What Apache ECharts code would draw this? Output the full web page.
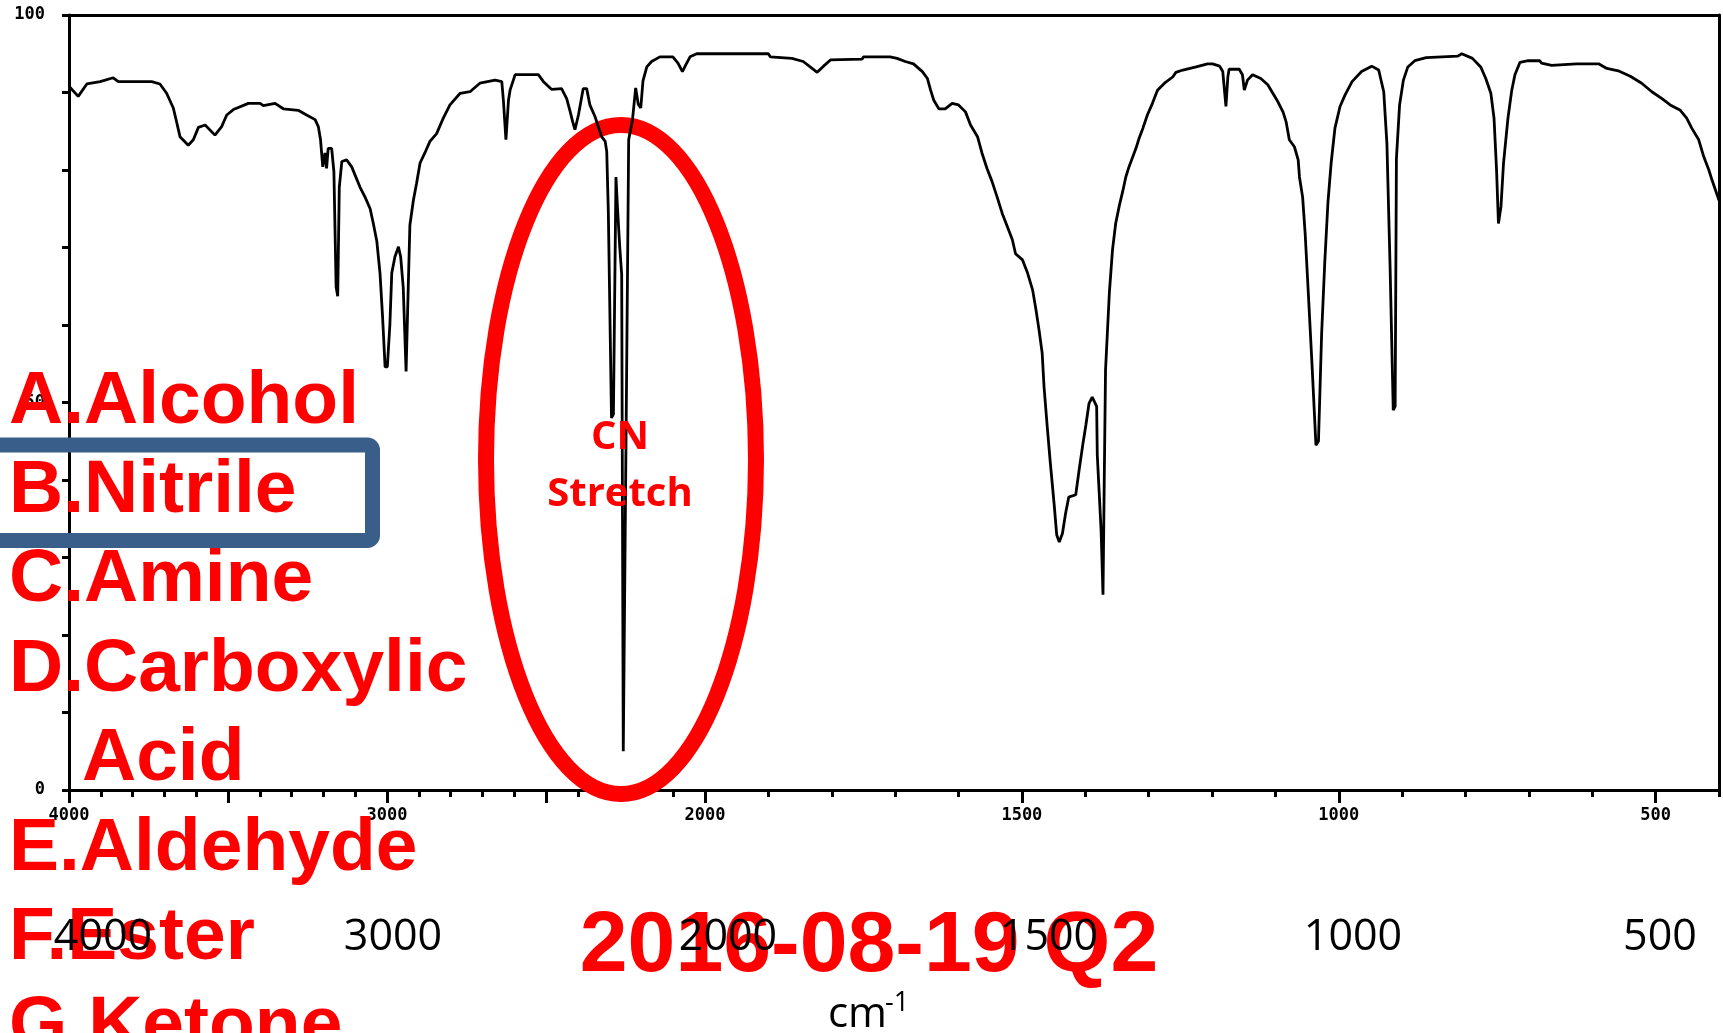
<!DOCTYPE html>
<html><head><meta charset="utf-8">
<script src="https://cdn.jsdelivr.net/npm/echarts/dist/echarts.min.js"></script>
<style>html,body{margin:0;padding:0;background:#fff;overflow:hidden}#c{width:1723px;height:1033px}</style>
</head><body><div id="c"></div>
<script>
// ---- data (wavenumber cm-1, %T) ----
const wavenumbers = [4000,3971,3944,3902,3861,3845,3740,3714,3693,3672,3661,3651,3625,3609,3593,3572,3541,3520,3504,3483,3436,3399,3389,3352,3326,3279,3253,3226,3216,3209,3202,3195,3190,3185,3174,3167,3160,3155,3150,3142,3127,3111,3101,3085,3069,3053,3043,3032,3022,3014,3006,2999,2991,2985,2975,2964,2957,2949,2940,2933,2928,2917,2907,2896,2881,2865,2844,2823,2802,2770,2739,2708,2660,2639,2634,2626,2618,2613,2597,2524,2508,2482,2451,2435,2425,2416,2409,2398,2383,2372,2362,2346,2325,2314,2309,2304,2298,2294,2288,2280,2275,2268,2262,2257,2251,2240,2228,2218,2210,2202,2195,2183,2168,2142,2101,2085,2071,2060,2047,2026,2000,
1900,1897,1863,1845,1831,1823,1813,1802,1752,1750,1708,1697,1684,1671,1657,1649,1644,1639,1631,1621,1610,1600,1589,1581,1570,1563,1555,1547,1539,1531,1523,1515,1510,1499,1491,1483,1478,1473,1468,1465,1460,1455,1449,1445,1441,1436,1431,1426,1415,1410,1404,1399,1394,1389,1382,1381,1375,1372,1370,1368,1362,1357,1352,1346,1341,1336,1331,1325,1320,1315,1309,1302,1294,1286,1275,1262,1257,1246,1225,1207,1199,1188,1183,1180,1178,1175,1173,1157,1152,1149,1144,1136,1123,1112,1104,1096,1088,1083,1078,1070,1064,1062,1057,1053,1048,1042,1036,1032,1027,1022,1017,1012,1006,998,990,979,964,948,937,929,924,919,914,911,909,904,898,891,880,862,812,806,789,776,768,760,755,751,748,744,740,733,727,722,714,701,683,680,664,625,590,577,559,540,522,506,490,477,461,451,443,432,424,416,411,403,400];
const transmittance = [90.8,89.5,91.1,91.4,91.9,91.4,91.4,91.1,89.9,88.0,86.1,84.3,83.2,83.9,85.5,85.8,84.5,85.6,87.1,87.8,88.6,88.6,88.3,88.6,87.9,87.7,87.1,86.5,85.6,83.9,80.4,82.2,80.2,82.8,82.8,79.8,64.9,63.7,77.8,81.1,81.3,80.4,79.4,77.8,76.5,75.0,73.1,70.8,66.7,61.1,54.6,54.6,60.0,66.7,68.8,70.1,68.8,64.9,54.0,65.2,72.9,76.1,78.3,80.9,82.2,83.7,84.7,86.7,88.4,89.9,90.1,91.2,91.6,91.4,89.0,83.9,89.0,90.3,92.3,92.3,91.4,90.4,90.5,89.2,87.7,86.2,85.2,87.1,90.5,90.5,88.4,86.9,84.3,83.7,82.4,74.6,74.6,48.0,48.5,79.1,75.0,70.0,66.5,5.0,5.0,83.9,86.5,90.6,88.5,88.0,91.5,93.3,94.0,94.6,94.6,93.8,92.7,93.6,94.6,95.0,95.0,
95.0,94.6,94.4,94.0,93.1,92.6,93.4,94.2,94.3,94.6,94.6,94.4,94.0,93.7,92.7,91.8,90.3,89.0,87.9,87.9,88.6,88.4,87.5,85.8,84.3,82.2,80.2,78.5,76.5,74.4,72.7,71.0,69.2,68.4,66.7,64.5,62.1,59.4,56.4,52.0,46.9,42.1,36.8,32.9,32.0,33.1,35.7,37.8,38.1,41.1,44.5,47.1,49.9,50.7,49.5,43.2,33.5,25.2,40.0,54.2,64.1,69.7,73.1,75.5,77.2,79.1,80.4,81.7,82.8,84.1,85.4,87.1,88.6,90.3,91.2,92.0,92.6,92.9,93.3,93.7,93.7,93.4,92.7,90.0,88.2,92.0,93.0,93.0,92.3,90.3,91.6,92.3,91.8,91.0,89.9,88.8,87.5,86.2,83.9,83.0,81.3,79.1,76.5,71.8,64.1,54.6,44.5,45.0,58.9,68.2,75.9,80.9,85.4,88.2,89.7,91.4,92.7,93.4,92.9,90.1,83.4,67.5,49.0,49.5,81.5,88.4,91.6,93.3,94.1,94.5,94.7,95.0,94.4,93.3,91.8,89.9,86.7,80.0,73.1,75.3,80.9,86.7,90.3,92.3,93.9,94.1,94.1,93.8,93.5,93.7,93.7,93.1,92.8,92.1,91.2,90.1,89.2,88.4,87.7,86.7,85.4,83.9,81.7,80.0,78.7,76.8,76.1];
const yTickLabels = [0, 50, 100];
const xTickLabelsHigh = [4000, 3000, 2000];
const xTickLabelsLow = [1500, 1000, 500];
const xMajorHigh = [4000, 3500, 3000, 2500, 2000];
const xMajorLow = [2000, 1500, 1000, 500];
const bigTickLabels = ['4000', '3000', '2000', '1500', '1000', '500'];
const choices = ['A.Alcohol', 'B.Nitrile', 'C.Amine', 'D.Carboxylic', 'Acid', 'E.Aldehyde', 'F.Ester', 'G.Ketone'];
const annotationLines = ['CN', 'Stretch'];
const titleText = '2016-08-19 Q2';
const unitText = 'cm';
const unitSup = '-1';

// ---- build ----
const hiPts = [], loPts = [];
wavenumbers.forEach((w, i) => {
  if (w >= 2000) hiPts.push([w, transmittance[i]]);
  if (w <= 2000) loPts.push([w, transmittance[i]]);
});

const AX = { color: '#000', width: 3 };
const plain = v => String(v);
const smallFont = { fontFamily: 'DejaVu Sans Mono', fontWeight: 'bold', fontSize: 17, color: '#000', formatter: plain };

const bigLabelX = [103, 393, 728, 1049, 1353, 1660];
const choiceX = [9, 9, 9, 9, 82, 9, 9, 9];

const graphics = [];
graphics.push({ type: 'ellipse', z: 1, shape: { cx: 621, cy: 459.5, rx: 135, ry: 334.5 },
  style: { fill: 'none', stroke: '#ff0000', lineWidth: 16 } });
choices.forEach((t, i) => graphics.push({ type: 'text', z: 50, x: choiceX[i], y: 402 + 89.4 * i,
  style: { text: t, font: 'bold 75px "Liberation Sans"', fill: '#ff0000', align: 'left', verticalAlign: 'middle' } }));
graphics.push({ type: 'rect', z: 55, shape: { x: -30, y: 445, width: 402.5, height: 95.5, r: 5 },
  style: { fill: 'none', stroke: '#3a5e8a', lineWidth: 15 } });
annotationLines.forEach((t, i) => graphics.push({ type: 'text', z: 50, x: 620, y: 438 + 57 * i,
  style: { text: t, font: 'bold 40px "Open Sans"', fill: '#ff0000', align: 'center', verticalAlign: 'middle' } }));
graphics.push({ type: 'text', z: 50, x: 869, y: 947,
  style: { text: titleText, font: 'bold 86px "Liberation Sans"', fill: '#ff0000', align: 'center', verticalAlign: 'middle' } });
bigTickLabels.forEach((t, i) => graphics.push({ type: 'text', z: 60, x: bigLabelX[i], y: 938,
  style: { text: t, font: '43px "Open Sans"', fill: '#000', align: 'center', verticalAlign: 'middle' } }));
graphics.push({ type: 'text', z: 60, x: 828, y: 1015,
  style: { text: unitText, font: '42px "Open Sans"', fill: '#000', align: 'left', verticalAlign: 'middle' } });
graphics.push({ type: 'text', z: 60, x: 885, y: 1003,
  style: { text: unitSup, font: '27px "Open Sans"', fill: '#000', align: 'left', verticalAlign: 'middle' } });

const option = {
  animation: false,
  backgroundColor: '#fff',
  grid: [
    { left: 69, top: 15, width: 636, height: 775 },
    { left: 705, top: 15, width: 1014, height: 775 }
  ],
  xAxis: [
    { gridIndex: 0, type: 'value', min: 2000, max: 4000, inverse: true, interval: 100, position: 'bottom',
      axisLine: { lineStyle: AX }, axisTick: { length: 7, lineStyle: AX }, axisLabel: { show: false }, splitLine: { show: false } },
    { gridIndex: 0, type: 'value', min: 2000, max: 4000, inverse: true, position: 'bottom',
      axisLine: { show: false }, axisTick: { length: 13, lineStyle: AX, customValues: xMajorHigh },
      axisLabel: Object.assign({ customValues: xTickLabelsHigh, margin: 17 }, smallFont), splitLine: { show: false } },
    { gridIndex: 0, type: 'value', min: 2000, max: 4000, inverse: true, position: 'top',
      axisLine: { lineStyle: AX }, axisTick: { show: false }, axisLabel: { show: false }, splitLine: { show: false } },
    { gridIndex: 1, type: 'value', min: 400, max: 2000, inverse: true, interval: 100, position: 'bottom',
      axisLine: { lineStyle: AX }, axisTick: { length: 7, lineStyle: AX }, axisLabel: { show: false }, splitLine: { show: false } },
    { gridIndex: 1, type: 'value', min: 400, max: 2000, inverse: true, position: 'bottom',
      axisLine: { show: false }, axisTick: { length: 13, lineStyle: AX, customValues: xMajorLow },
      axisLabel: Object.assign({ customValues: xTickLabelsLow, margin: 17 }, smallFont), splitLine: { show: false } },
    { gridIndex: 1, type: 'value', min: 400, max: 2000, inverse: true, position: 'top',
      axisLine: { lineStyle: AX }, axisTick: { show: false }, axisLabel: { show: false }, splitLine: { show: false } }
  ],
  yAxis: [
    { gridIndex: 0, type: 'value', min: 0, max: 100, interval: 10, position: 'left',
      axisLine: { lineStyle: AX }, axisTick: { length: 7, lineStyle: AX },
      axisLabel: Object.assign({ customValues: yTickLabels, margin: 24 }, smallFont), splitLine: { show: false } },
    { gridIndex: 1, type: 'value', min: 0, max: 100, position: 'right',
      axisLine: { lineStyle: AX }, axisTick: { show: false }, axisLabel: { show: false }, splitLine: { show: false } }
  ],
  series: [
    { type: 'line', xAxisIndex: 0, yAxisIndex: 0, data: hiPts, showSymbol: false, z: 5,
      lineStyle: { color: '#000', width: 2.8 } },
    { type: 'line', xAxisIndex: 3, yAxisIndex: 1, data: loPts, showSymbol: false, z: 5,
      lineStyle: { color: '#000', width: 2.8 } }
  ],
  graphic: { elements: graphics }
};
const chart = echarts.init(document.getElementById('c'), null, { renderer: 'canvas' });
chart.setOption(option);
</script>
</body></html>
